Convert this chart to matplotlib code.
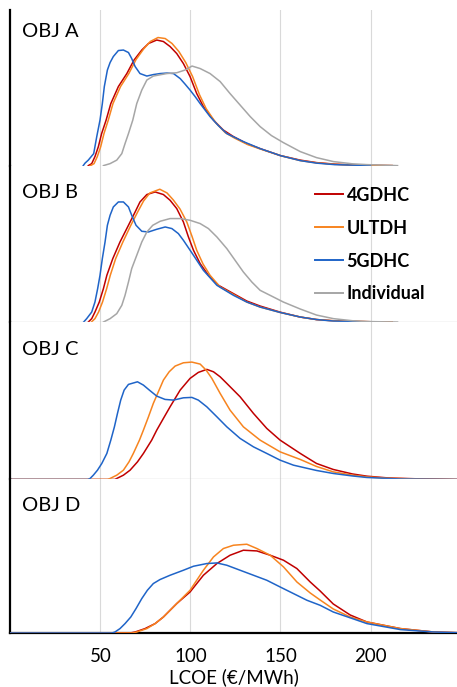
import matplotlib.pyplot as plt

plt.rcParams['font.family'] = ['Lato', 'DejaVu Sans']

# colours per scenario
c_4g = '#c00000'
c_ul = '#f7841f'
c_5g = '#1f64c8'
c_ind = '#a6a6a6'

# ---- OBJ A ----
a_4g_x = [43.3, 45.2, 47, 48.9, 50.7, 53.2, 55.8, 60, 64.7, 68.7, 73, 76.7, 81.3, 85, 88.7, 92.4, 96.1, 99.8, 103.5, 107.2, 112.8, 118.3, 123.9, 131.3, 138.7, 150, 161, 170, 180, 192, 212]
a_4g_y = [0, 2, 9, 19, 32, 45.5, 62, 79, 92, 105.5, 115.5, 122, 125.5, 124, 119, 112, 102, 89, 72, 59, 45.5, 35.5, 29, 22, 17, 10, 5.5, 3, 1.5, 0.5, 0]
a_ul_x = [44.5, 46.5, 48.3, 50.2, 52, 54.4, 57, 61.2, 65.8, 69.8, 74, 77.7, 82, 86, 89.8, 93.6, 97.4, 101.2, 105, 108.7, 114, 119.3, 124.5, 131.8, 139, 150, 161, 170, 180, 192, 212]
a_ul_y = [0, 2, 9, 19, 32, 45.5, 62, 79, 92, 106, 116.5, 124, 128, 127, 122, 114, 103, 89, 71, 57, 43, 33, 27.5, 21, 16.5, 10, 5, 2.8, 1.3, 0.4, 0]
a_5g_x = [40.5, 41.5, 43.3, 46.3, 48, 49.8, 51.1, 52.2, 53.9, 55.4, 57.2, 60, 62.8, 65.6, 67.4, 69.3, 72, 75.8, 79.5, 83.2, 87, 90.6, 94.3, 97, 99.8, 102.6, 105.4, 110.9, 115.5, 120.2, 129.4, 138.7, 150, 161, 170, 180, 200]
a_5g_y = [0, 2.5, 5.5, 12, 29, 45.5, 62, 79, 95.5, 103, 109, 115, 115.5, 113, 107, 99, 92, 89.5, 91, 92, 92.5, 92, 87, 81.5, 75.5, 69, 62, 49, 40, 32, 24, 17, 10, 5, 2.5, 1, 0]
a_ind_x = [51.7, 55.4, 59.1, 61.9, 63.7, 65.6, 68, 70.2, 73, 75.8, 79.4, 86.9, 92.4, 97, 100.9, 105.4, 110.9, 116.5, 122, 127.6, 133.2, 138.7, 145, 151.6, 161, 170, 179.5, 190, 198, 215]
a_ind_y = [0, 2, 5.5, 12, 22, 32, 45.5, 62, 75.5, 85.5, 89.5, 92, 92.8, 95.5, 99.5, 97, 92, 84, 72, 60.5, 49, 39, 30, 23, 14, 8, 4, 1.8, 1, 0]

# ---- OBJ B ----
b_4g_x = [43.3, 45.2, 47, 49.4, 51.7, 53.6, 56.9, 60.9, 65.6, 69.3, 72, 75.8, 80.4, 85, 88.7, 92.4, 96.1, 98.9, 101.7, 105.4, 110, 115.6, 123.9, 131.3, 138.7, 150, 161, 170, 180, 200, 212]
b_4g_y = [0, 3.4, 10, 20, 33.4, 46.7, 63.4, 80, 96.7, 110, 120, 127.4, 130, 127.4, 121.7, 113.4, 100, 85, 71.7, 58.4, 46.7, 36.7, 28.4, 21, 16, 9.8, 5, 2.5, 1.2, 0.3, 0]
b_ul_x = [45, 47, 49, 51.2, 53.5, 55.5, 58.5, 62.5, 67, 71, 74, 77.5, 83, 87, 90.5, 94.2, 98, 101, 103.5, 107, 110.9, 116.5, 123.9, 131.3, 138.7, 150, 161, 170, 180, 200, 212]
b_ul_y = [0, 3.4, 10, 20, 33.4, 46.7, 63.4, 80, 97, 111, 121, 129, 132.7, 129, 122, 113, 100, 85, 71.7, 58, 46.7, 35, 27.5, 20, 15, 9.5, 5, 2.5, 1.2, 0.3, 0]
b_5g_x = [40.7, 42.4, 45.2, 47, 48.5, 49.8, 51.1, 52.6, 53.9, 55.4, 57.2, 60, 62.8, 65.6, 67.4, 69.8, 73, 76.7, 81.3, 86, 89.7, 93.3, 96.1, 101.7, 107.2, 114.7, 123.9, 131.3, 138.7, 150, 161, 170, 179.4, 200]
b_5g_y = [0, 3.4, 10, 20, 33.4, 46.7, 63.4, 80, 96.7, 106.7, 115, 120, 120, 115, 106.7, 96.7, 90.7, 90, 92.7, 95, 93.4, 88.4, 81.7, 66.7, 51.7, 36.7, 26.7, 20, 15, 9.5, 5, 2.5, 1, 0]
b_ind_x = [51.7, 55.4, 59.1, 61.9, 63.7, 65.6, 67.4, 70.2, 73, 75.8, 79.1, 83.2, 88.7, 94.3, 99.8, 105.4, 110, 114.7, 120.2, 124.8, 129.4, 134.1, 138.7, 145, 151.6, 161, 170, 179.4, 190, 198, 215]
b_ind_y = [0, 3.4, 8.4, 16.7, 26.7, 40, 53.4, 66.7, 80, 90, 96.7, 100.7, 103.4, 103.4, 101.7, 98.4, 93.4, 85, 73.4, 61.7, 50, 40, 31.7, 26, 20, 13, 7, 3.4, 1.3, 0.5, 0]

# ---- OBJ C ----
c_4g_x = [0, 58, 59.1, 62.8, 66.5, 70.6, 73.9, 78.5, 81.3, 85, 88.7, 94.3, 99.8, 104.4, 109.1, 112.8, 116.5, 120.2, 127.6, 135, 142.4, 149.8, 161, 170, 179.3, 190, 198, 210, 225, 248]
c_4g_y = [0, 0, 1, 4.3, 9.3, 17.6, 26, 39.3, 49.3, 61, 72.6, 89.3, 101, 107, 110, 107.6, 102.6, 96, 82.6, 66, 51, 39.3, 26, 16, 10, 5.5, 3.3, 1.5, 0.7, 0]
c_ul_x = [0, 54, 55.4, 59.1, 62.8, 65.9, 68.3, 71.7, 73.9, 76.7, 79.4, 82.6, 85, 88.2, 91.5, 96.1, 100.8, 105.4, 108.7, 111.9, 116.5, 122, 129.4, 138.7, 149.8, 161, 170, 179.3, 190, 198, 210, 225, 248]
c_ul_y = [0, 0, 1, 4.3, 9.3, 17.6, 26, 39.3, 49.3, 62.6, 76, 89.3, 99.3, 107.6, 113.3, 116.6, 117.3, 115.3, 109.3, 101, 86, 69.3, 52.6, 39.3, 27.6, 20, 13, 7.6, 4.3, 2.6, 1.2, 0.5, 0]
c_5g_x = [0, 43, 44.3, 46.1, 48.4, 50.8, 53.6, 55.8, 57.8, 59.5, 61.3, 63.2, 65.6, 70.6, 73.9, 77.2, 81.3, 85.9, 90.6, 96.1, 100.8, 104.4, 109.1, 114.7, 120.2, 127.6, 135, 142.4, 149.8, 157.2, 170, 179.3, 190, 198, 216, 248]
c_5g_y = [0, 0, 1, 4.3, 9.3, 16, 26, 39.3, 52.6, 66, 79.3, 89.3, 95, 97.6, 94.3, 89.3, 83.3, 80, 79.3, 81.6, 82, 79.3, 72.6, 62.6, 52.6, 41, 32.6, 26, 19.3, 14.3, 9, 6, 3.5, 2, 0.5, 0]

# ---- OBJ D ----
d_4g_x = [0, 66.5, 69.3, 74.8, 80.4, 85, 92.4, 99.8, 107.2, 114.7, 122, 129.4, 136.9, 144.3, 151.7, 159.1, 166.5, 172, 179.3, 188.7, 198, 216.6, 235, 248]
d_4g_y = [0, 0, 1, 4.4, 9.4, 16, 29.4, 41, 57.7, 69.4, 77.7, 82.7, 82, 77.7, 72.7, 64.4, 51, 42, 29, 18, 11, 4.4, 1, 0.3]
d_ul_x = [0, 68, 70.2, 75.8, 80.4, 85, 92.4, 99.8, 107.2, 112.8, 118.3, 123.9, 131.3, 136.9, 144.3, 151.7, 159.1, 166.5, 172, 179.3, 188.7, 198, 216.6, 235, 248]
d_ul_y = [0, 0, 1, 4.4, 9.4, 16, 29.4, 42.7, 62.7, 76, 84.4, 87.7, 88.7, 84.4, 77.7, 66, 51, 40, 33, 24, 16, 11, 4.4, 1, 0.3]
d_5g_x = [0, 56.5, 58.1, 60.9, 63.7, 66.9, 69.8, 73, 76.1, 79.4, 83.1, 88.7, 96.1, 101.7, 109.1, 114.7, 120.2, 127.6, 135, 142.4, 149.8, 157.2, 164.7, 172, 179.3, 198, 216.6, 235, 248]
d_5g_y = [0, 0, 1, 4.4, 9.4, 16, 24.4, 34.4, 42.7, 49.4, 53.4, 57.7, 62.7, 66.7, 69.4, 70, 67.7, 62.7, 57.7, 52.7, 46, 39.4, 32.7, 27.7, 21, 9.4, 3.4, 1, 0.3]

panel_names = ['OBJ A', 'OBJ B', 'OBJ C', 'OBJ D']
panel_tops = [155.5, 156.3, 157.3, 153.4]
label_y = [134.5, 129.5, 130, 127]

fig = plt.figure(figsize=(4.57, 6.87), dpi=100)
gs = fig.add_gridspec(4, 1, height_ratios=panel_tops, hspace=0,
                      left=10.3 / 457, right=1.0, bottom=1 - 633 / 687, top=1 - 10 / 687)
axes = [fig.add_subplot(gs[i]) for i in range(4)]

lw = 1.1
axes[0].plot(a_4g_x, a_4g_y, color=c_4g, lw=lw, label='4GDHC')
axes[0].plot(a_ul_x, a_ul_y, color=c_ul, lw=lw, label='ULTDH')
axes[0].plot(a_5g_x, a_5g_y, color=c_5g, lw=lw, label='5GDHC')
axes[0].plot(a_ind_x, a_ind_y, color=c_ind, lw=lw, label='Individual')

axes[1].plot(b_4g_x, b_4g_y, color=c_4g, lw=lw, label='4GDHC')
axes[1].plot(b_ul_x, b_ul_y, color=c_ul, lw=lw, label='ULTDH')
axes[1].plot(b_5g_x, b_5g_y, color=c_5g, lw=lw, label='5GDHC')
axes[1].plot(b_ind_x, b_ind_y, color=c_ind, lw=lw, label='Individual')

axes[2].plot(c_4g_x, c_4g_y, color=c_4g, lw=lw)
axes[2].plot(c_ul_x, c_ul_y, color=c_ul, lw=lw)
axes[2].plot(c_5g_x, c_5g_y, color=c_5g, lw=lw)

axes[3].plot(d_4g_x, d_4g_y, color=c_4g, lw=lw, zorder=3)
axes[3].plot(d_ul_x, d_ul_y, color=c_ul, lw=lw, zorder=3)
axes[3].plot(d_5g_x, d_5g_y, color=c_5g, lw=lw, zorder=3)

for i, ax in enumerate(axes):
    ax.set_xlim(0, 248)
    ax.set_ylim(0, panel_tops[i])
    ax.set_xticks([50, 100, 150, 200])
    ax.set_yticks([])
    ax.grid(axis='x', color='#d9d9d9', lw=0.8)
    ax.set_axisbelow(True)
    ax.tick_params(axis='x', length=0, labelsize=13.5, pad=11)
    for s in ['top', 'right']:
        ax.spines[s].set_visible(False)
    ax.spines['left'].set_color('black')
    ax.spines['left'].set_linewidth(1.6)
    ax.text(6.5, label_y[i], panel_names[i], fontsize=14.5, va='center', ha='left')
    if i < 3:
        ax.tick_params(axis='x', labelbottom=False)

axes[0].spines['bottom'].set_visible(False)
axes[1].spines['bottom'].set_color('#bfbfbf')
axes[1].spines['bottom'].set_linewidth(0.9)
axes[2].spines['bottom'].set_color('#bfbfbf')
axes[2].spines['bottom'].set_linewidth(0.9)
axes[3].spines['bottom'].set_color('black')
axes[3].spines['bottom'].set_linewidth(1.6)
axes[3].spines['bottom'].set_zorder(2)

axes[3].set_xlabel('LCOE (€/MWh)', fontsize=13.5, labelpad=2)

leg = axes[1].legend(loc='upper left', bbox_to_anchor=(0.682, 0.865), frameon=False,
                     borderpad=0, borderaxespad=0, handlelength=1.55, handletextpad=0.2,
                     labelspacing=0.88, prop={'weight': 'bold', 'size': 13})
for line in leg.get_lines():
    line.set_linewidth(1.4)

fig.savefig('out.png', dpi=100)
